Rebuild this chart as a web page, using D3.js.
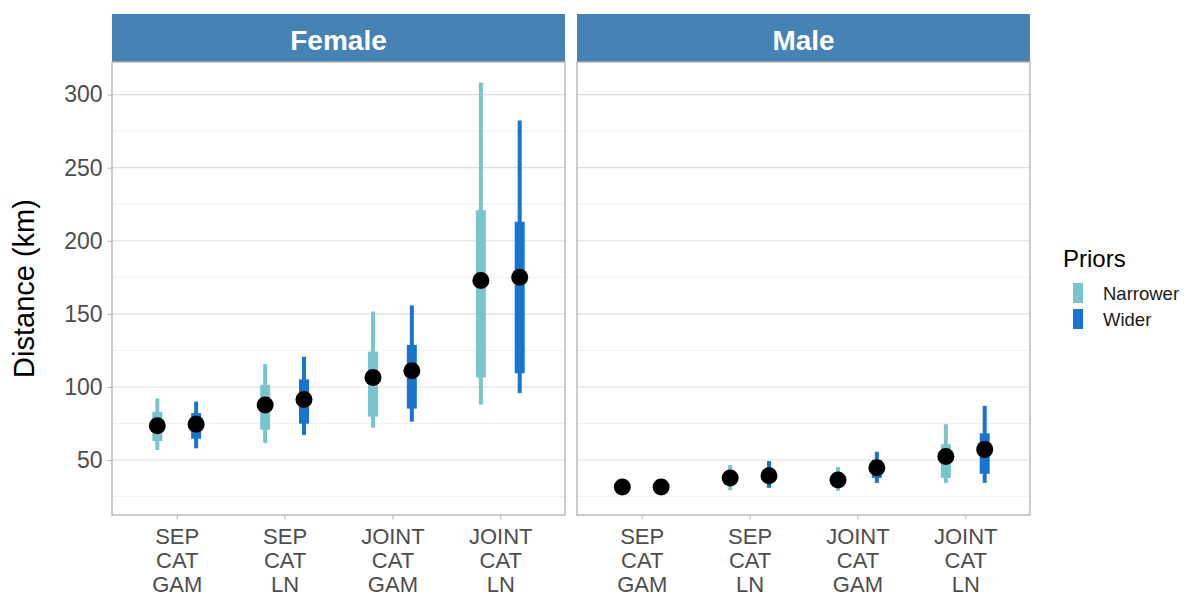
<!DOCTYPE html>
<html>
<head>
<meta charset="utf-8">
<script src="https://cdn.jsdelivr.net/npm/d3@7"></script>
<style>
  body { margin: 0; background: #fff; }
  svg text { font-family: "Liberation Sans", Arial, sans-serif; }
</style>
</head>
<body>
<script>
// data
var sexes = ['Female', 'Male'];
var priors = ['Narrower', 'Wider'];
var models = ['SEP CAT GAM', 'SEP CAT LN', 'JOINT CAT GAM', 'JOINT CAT LN'];
var priorColours = ['#7AC5CD', '#1874CD'];
var yTicks = [50, 100, 150, 200, 250, 300];

// rows: [estimate, 50% low, 50% high, 95% low, 95% high], one per model
var femaleNarrower = [
  [73.4, 63.0, 83.0, 56.9, 92.1],
  [87.6, 70.8, 101.5, 61.7, 115.7],
  [106.5, 79.7, 124.2, 72.2, 151.6],
  [172.9, 106.5, 220.8, 88.0, 308.2]
];
var femaleWider = [
  [74.5, 64.6, 82.1, 58.0, 90.0],
  [91.4, 74.9, 105.2, 67.2, 120.7],
  [111.1, 85.2, 128.8, 76.3, 155.8],
  [175.0, 109.3, 213.0, 95.8, 282.3]
];
var maleNarrower = [
  [31.5, 29.5, 33.5, 26.5, 35.5],
  [37.8, 33.5, 42.0, 29.4, 46.6],
  [36.3, 32.5, 40.0, 28.9, 45.2],
  [52.5, 37.8, 60.8, 34.4, 74.5]
];
var maleWider = [
  [31.5, 29.5, 33.5, 27.0, 35.5],
  [39.2, 35.0, 44.0, 31.0, 49.3],
  [44.7, 37.8, 50.0, 34.4, 55.7],
  [57.3, 40.6, 68.3, 34.4, 87.1]
];
var series = {
  Female: [femaleNarrower, femaleWider],
  Male: [maleNarrower, maleWider]
};

// layout
var panelW = 453, panelH = 453, panelTop = 62, stripH = 48;
var panelLeft = [112, 577];

var svg = d3.select('body').append('svg')
  .attr('width', 1190)
  .attr('height', 597);

// y scale with ggplot style 5% expansion
var allVals = [];
sexes.forEach(function(s) { series[s].forEach(function(rows) { rows.forEach(function(r) { allVals = allVals.concat(r); }); }); });
var ext = d3.extent(allVals);
var pad = (ext[1] - ext[0]) * 0.05;
var y = d3.scaleLinear().domain([ext[0] - pad, ext[1] + pad]).range([panelTop + panelH, panelTop]);

var x = d3.scalePoint().domain(models).range([0, panelW]).padding(0.6);
var step = x.step();
var dodge = d3.scalePoint().domain(priors).range([-0.18 * step, 0.18 * step]);

var minorTicks = d3.range(25, 325, 50);

sexes.forEach(function(sex, si) {
  var g = svg.append('g').attr('transform', 'translate(' + panelLeft[si] + ',0)');

  // strip
  g.append('rect')
    .attr('x', 0).attr('y', panelTop - stripH)
    .attr('width', panelW).attr('height', stripH)
    .attr('fill', '#4682B4');
  g.append('text')
    .attr('x', panelW / 2).attr('y', panelTop - stripH / 2 + 2)
    .attr('dy', '0.36em')
    .attr('text-anchor', 'middle')
    .attr('fill', '#fff')
    .attr('font-size', 28)
    .attr('font-weight', 'bold')
    .text(sex);

  // grid
  g.selectAll('.minor').data(minorTicks).enter().append('line')
    .attr('x1', 0).attr('x2', panelW)
    .attr('y1', function(d) { return y(d); }).attr('y2', function(d) { return y(d); })
    .attr('stroke', '#ECECEC').attr('stroke-width', 0.8);
  g.selectAll('.major').data(yTicks).enter().append('line')
    .attr('x1', 0).attr('x2', panelW)
    .attr('y1', function(d) { return y(d); }).attr('y2', function(d) { return y(d); })
    .attr('stroke', '#DEDEDE').attr('stroke-width', 1.1);

  // intervals and points
  series[sex].forEach(function(rows, pi) {
    var col = priorColours[pi];
    var cx = function(d, i) { return x(models[i]) + dodge(priors[pi]); };
    var sg = g.append('g');
    sg.selectAll('.outer').data(rows).enter().append('line')
      .attr('x1', cx).attr('x2', cx)
      .attr('y1', function(d) { return y(d[3]); }).attr('y2', function(d) { return y(d[4]); })
      .attr('stroke', col).attr('stroke-width', 4);
    sg.selectAll('.inner').data(rows).enter().append('line')
      .attr('x1', cx).attr('x2', cx)
      .attr('y1', function(d) { return y(d[1]); }).attr('y2', function(d) { return y(d[2]); })
      .attr('stroke', col).attr('stroke-width', 10);
  });
  series[sex].forEach(function(rows, pi) {
    g.selectAll('.pt' + pi).data(rows).enter().append('circle')
      .attr('cx', function(d, i) { return x(models[i]) + dodge(priors[pi]); })
      .attr('cy', function(d) { return y(d[0]); })
      .attr('r', 8.5)
      .attr('fill', '#000');
  });

  // panel border
  g.append('rect')
    .attr('x', 0).attr('y', panelTop)
    .attr('width', panelW).attr('height', panelH)
    .attr('fill', 'none').attr('stroke', '#B3B3B3').attr('stroke-width', 1.3);

  // x axis
  var xa = g.append('g')
    .attr('transform', 'translate(0,' + (panelTop + panelH) + ')')
    .call(d3.axisBottom(x).tickSize(4.5).tickFormat(''));
  xa.select('.domain').remove();
  xa.selectAll('.tick line').attr('stroke', '#B3B3B3');
  xa.selectAll('.tick').each(function(d) {
    var t = d3.select(this).append('text')
      .attr('text-anchor', 'middle')
      .attr('fill', '#4D4D4D')
      .attr('font-size', 22);
    d.split(' ').forEach(function(w, k) {
      t.append('tspan').attr('x', 0).attr('y', 29 + k * 24).text(w);
    });
  });

  // y axis on first panel only
  if (si === 0) {
    var ya = g.append('g')
      .call(d3.axisLeft(y).tickValues(yTicks).tickSize(4.5).tickPadding(5));
    ya.select('.domain').remove();
    ya.selectAll('.tick line').attr('stroke', '#B3B3B3');
    ya.selectAll('.tick text').attr('fill', '#4D4D4D').attr('font-size', 23);
  }
});

// axis title
svg.append('text')
  .attr('transform', 'translate(34,' + (panelTop + panelH / 2) + ') rotate(-90)')
  .attr('text-anchor', 'middle')
  .attr('font-size', 29)
  .attr('fill', '#000')
  .text('Distance (km)');

// legend
var leg = svg.append('g').attr('transform', 'translate(1063,0)');
leg.append('text')
  .attr('x', 0).attr('y', 267)
  .attr('font-size', 24)
  .attr('fill', '#000')
  .text('Priors');
priors.forEach(function(p, i) {
  leg.append('rect')
    .attr('x', 10).attr('y', 283 + i * 26)
    .attr('width', 10).attr('height', 20)
    .attr('fill', priorColours[i]);
  leg.append('text')
    .attr('x', 40).attr('y', 293 + i * 26)
    .attr('dy', '0.36em')
    .attr('font-size', 18.5)
    .attr('fill', '#1A1A1A')
    .text(p);
});
</script>
</body>
</html>
